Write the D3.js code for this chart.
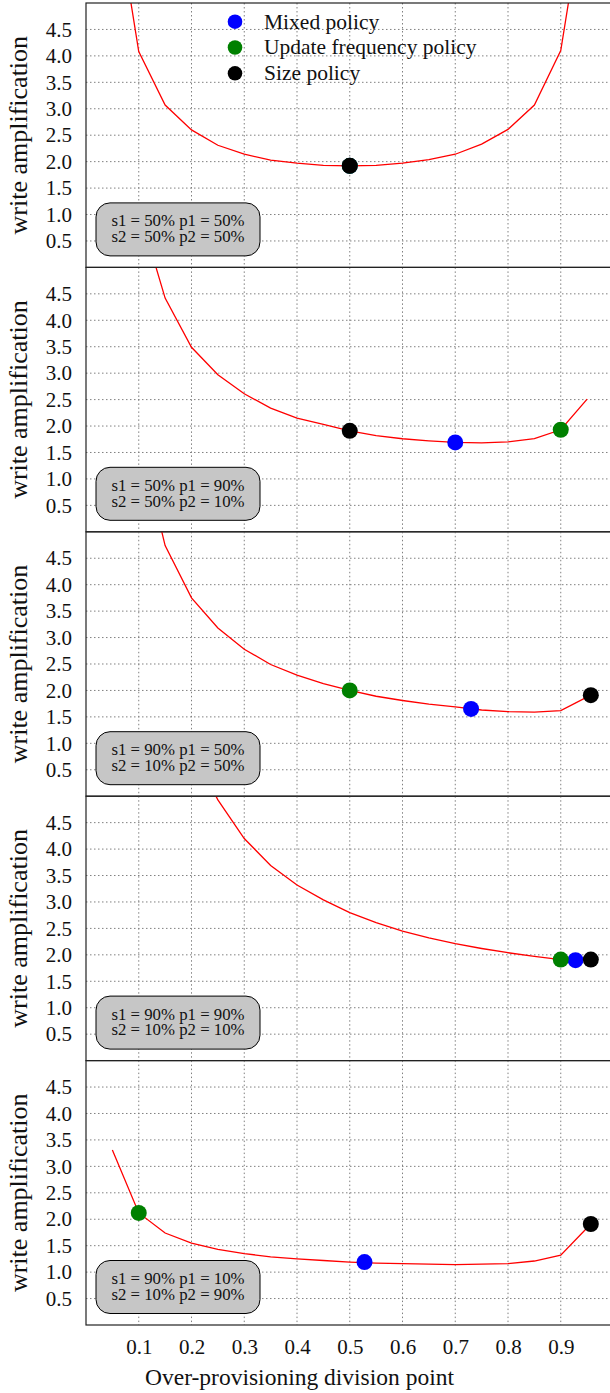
<!DOCTYPE html>
<html>
<head>
<meta charset="utf-8">
<script src="https://cdn.jsdelivr.net/npm/d3@7/dist/d3.min.js"></script>
<style>
  body { margin: 0; background: #fff; }
  svg { display: block; }
  text { font-family: "Liberation Serif", "DejaVu Serif", serif; fill: #111; }
</style>
</head>
<body>
<div id="chart"></div>
<script>
// tick values
const xTicks = [0.1, 0.2, 0.3, 0.4, 0.5, 0.6, 0.7, 0.8, 0.9]
const yTicks = [0.5, 1.0, 1.5, 2.0, 2.5, 3.0, 3.5, 4.0, 4.5]

// legend entries
const policyNames = ['Mixed policy', 'Update frequency policy', 'Size policy']
const policyColors = ['#0000ff', '#008000', '#000000']

// panel labels
const boxLine1 = ['s1 = 50% p1 = 50%', 's1 = 50% p1 = 90%', 's1 = 90% p1 = 50%', 's1 = 90% p1 = 90%', 's1 = 90% p1 = 10%']
const boxLine2 = ['s2 = 50% p2 = 50%', 's2 = 50% p2 = 10%', 's2 = 10% p2 = 50%', 's2 = 10% p2 = 10%', 's2 = 10% p2 = 90%']

// curves: division point -> write amplification
const op1 = [0.05, 0.1, 0.15, 0.2, 0.25, 0.3, 0.35, 0.4, 0.45, 0.5, 0.55, 0.6, 0.65, 0.7, 0.75, 0.8, 0.85, 0.9, 0.95]
const wa1 = [7.2, 4.08, 3.07, 2.60, 2.31, 2.14, 2.03, 1.97, 1.93, 1.92, 1.93, 1.97, 2.04, 2.14, 2.33, 2.61, 3.07, 4.10, 7.2]
const op2 = [0.1, 0.15, 0.2, 0.25, 0.3, 0.35, 0.4, 0.45, 0.5, 0.55, 0.6, 0.65, 0.7, 0.75, 0.8, 0.85, 0.9, 0.95]
const wa2 = [6.1, 4.42, 3.49, 2.97, 2.61, 2.34, 2.15, 2.03, 1.91, 1.82, 1.76, 1.72, 1.69, 1.68, 1.70, 1.76, 1.93, 2.51]
const op3 = [0.1, 0.15, 0.2, 0.25, 0.3, 0.35, 0.4, 0.45, 0.5, 0.55, 0.6, 0.65, 0.7, 0.75, 0.8, 0.85, 0.9, 0.957]
const wa3 = [6.8, 4.74, 3.75, 3.18, 2.78, 2.49, 2.29, 2.13, 2.00, 1.89, 1.81, 1.74, 1.69, 1.63, 1.60, 1.59, 1.62, 1.91]
const op4 = [0.2, 0.25, 0.3, 0.35, 0.4, 0.45, 0.5, 0.55, 0.6, 0.65, 0.7, 0.75, 0.8, 0.85, 0.9]
const wa4 = [5.9, 4.93, 4.20, 3.69, 3.32, 3.04, 2.80, 2.61, 2.45, 2.32, 2.21, 2.12, 2.04, 1.97, 1.91]
const op5 = [0.05, 0.1, 0.15, 0.2, 0.25, 0.3, 0.35, 0.4, 0.45, 0.5, 0.55, 0.6, 0.65, 0.7, 0.75, 0.8, 0.85, 0.9, 0.957]
const wa5 = [3.31, 2.12, 1.74, 1.55, 1.43, 1.35, 1.29, 1.25, 1.22, 1.19, 1.17, 1.16, 1.15, 1.14, 1.15, 1.16, 1.21, 1.32, 1.91]

// policy points [mixed, update frequency, size]
const mixedX = [0.5, 0.7, 0.73, 0.928, 0.528]
const mixedY = [1.92, 1.69, 1.65, 1.90, 1.19]
const updateX = [0.5, 0.9, 0.5, 0.9, 0.1]
const updateY = [1.92, 1.93, 2.00, 1.91, 2.12]
const sizeX = [0.5, 0.5, 0.957, 0.957, 0.957]
const sizeY = [1.92, 1.91, 1.91, 1.91, 1.91]

const curves = [[op1, wa1], [op2, wa2], [op3, wa3], [op4, wa4], [op5, wa5]]

// ----- layout -----
const width = 610
const height = 1393
const margin = { top: 3, left: 86, bottom: 68 }
const plotWidth = 527.5
const panelHeight = (height - margin.top - margin.bottom) / 5

const xScale = d3.scaleLinear().domain([0, 1]).range([0, plotWidth])
const yScale = d3.scaleLinear().domain([0, 5]).range([panelHeight, 0])

const svg = d3.select('#chart').append('svg').attr('width', width).attr('height', height)

const line = d3.line().x(d => xScale(d[0])).y(d => yScale(d[1]))

curves.forEach((c, i) => {
  const g = svg.append('g').attr('transform', `translate(${margin.left} ${margin.top + i * panelHeight})`)

  g.append('clipPath').attr('id', `clip${i}`)
    .append('rect').attr('width', plotWidth).attr('height', panelHeight)

  // grid
  g.append('g').selectAll('line.h').data(yTicks).enter().append('line')
    .attr('x1', 0).attr('x2', plotWidth)
    .attr('y1', d => yScale(d)).attr('y2', d => yScale(d))
    .attr('stroke', '#808080').attr('stroke-width', 1).attr('stroke-dasharray', '1.5 2.5')
  g.append('g').selectAll('line.v').data(xTicks).enter().append('line')
    .attr('y1', 0).attr('y2', panelHeight)
    .attr('x1', d => xScale(d)).attr('x2', d => xScale(d))
    .attr('stroke', '#808080').attr('stroke-width', 1).attr('stroke-dasharray', '1.5 2.5')

  // y axis tick labels
  const yAxis = d3.axisLeft(yScale).tickValues(yTicks).tickFormat(d3.format('.1f')).tickSize(0).tickPadding(14)
  const ya = g.append('g').call(yAxis)
  ya.select('.domain').remove()
  ya.selectAll('text').attr('font-family', '"Liberation Serif", serif').attr('font-size', 21).attr('fill', '#111')

  // y label
  g.append('text')
    .attr('transform', `translate(${19 - margin.left + 8} ${panelHeight / 2}) rotate(-90)`)
    .attr('text-anchor', 'middle')
    .attr('font-size', 26)
    .text('write amplification')

  // curve
  const pts = c[0].map((x, j) => [x, c[1][j]])
  g.append('path').datum(pts)
    .attr('clip-path', `url(#clip${i})`)
    .attr('d', line)
    .attr('fill', 'none').attr('stroke', '#ff0000').attr('stroke-width', 1.3)

  // policy points
  const dots = [
    { x: mixedX[i], y: mixedY[i], c: policyColors[0] },
    { x: updateX[i], y: updateY[i], c: policyColors[1] },
    { x: sizeX[i], y: sizeY[i], c: policyColors[2] }
  ]
  g.append('g').selectAll('circle').data(dots).enter().append('circle')
    .attr('cx', d => xScale(d.x)).attr('cy', d => yScale(d.y))
    .attr('r', 8).attr('fill', d => d.c)

  // parameter box
  const box = g.append('g').attr('transform', `translate(10 ${panelHeight - 64.5})`)
  box.append('rect').attr('width', 164).attr('height', 53).attr('rx', 14)
    .attr('fill', '#c6c6c6').attr('stroke', '#000').attr('stroke-width', 1)
  box.append('text').attr('x', 82).attr('y', 23.5).attr('text-anchor', 'middle')
    .attr('font-size', 16.8).attr('fill', '#333').text(boxLine1[i])
  box.append('text').attr('x', 82).attr('y', 39.3).attr('text-anchor', 'middle')
    .attr('font-size', 16.8).attr('fill', '#333').text(boxLine2[i])

  // frame
  g.append('rect').attr('width', plotWidth).attr('height', panelHeight)
    .attr('fill', 'none').attr('stroke', '#222').attr('stroke-width', 1.2)

  // legend only in the top panel
  if (i === 0) {
    const lg = g.append('g').attr('transform', 'translate(149 18.7)')
    policyNames.forEach((name, k) => {
      lg.append('circle').attr('cx', 0).attr('cy', k * 25.8).attr('r', 7.3).attr('fill', policyColors[k])
      lg.append('text').attr('x', 29).attr('y', k * 25.8 + 7).attr('font-size', 21.5).text(name)
    })
  }

  // x axis on bottom panel
  if (i === curves.length - 1) {
    const xAxis = d3.axisBottom(xScale).tickValues(xTicks).tickFormat(d3.format('.1f')).tickSize(0).tickPadding(14)
    const xa = g.append('g').attr('transform', `translate(0 ${panelHeight})`).call(xAxis)
    xa.select('.domain').remove()
    xa.selectAll('text').attr('font-family', '"Liberation Serif", serif').attr('font-size', 21).attr('fill', '#111')
    g.append('text')
      .attr('x', 213.5).attr('y', panelHeight + 60)
      .attr('text-anchor', 'middle')
      .attr('font-size', 23.5)
      .text('Over-provisioning division point')
  }
})
</script>
</body>
</html>
